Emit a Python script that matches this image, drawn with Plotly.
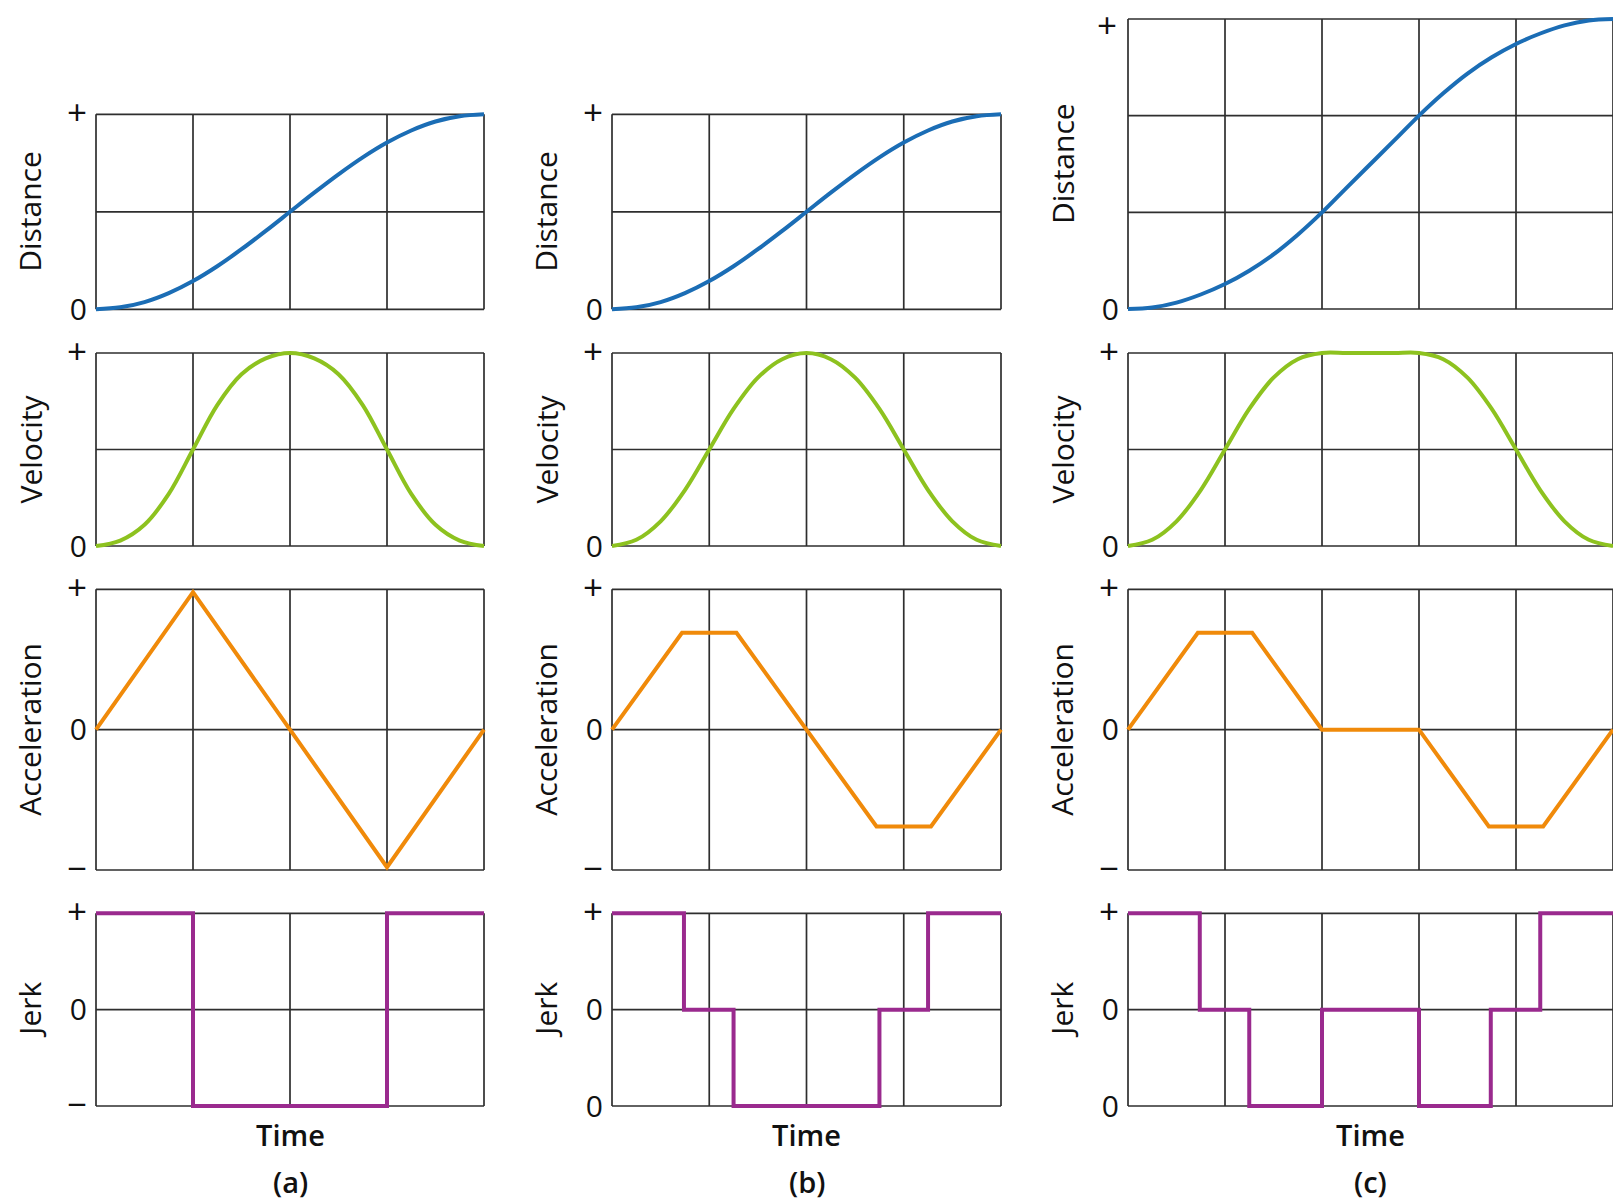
import plotly.graph_objects as go

W, H = 1613, 1204

# ---- sample times, in grid columns ----
t_ab = [0, 0.25, 0.5, 0.75, 1, 1.25, 1.5, 1.75, 2, 2.25, 2.5, 2.75, 3, 3.25, 3.5, 3.75, 4]
t_c = [0, 0.25, 0.5, 0.75, 1, 1.25, 1.5, 1.75, 2, 2.25, 2.5, 2.75, 3, 3.25, 3.5,
       3.75, 4, 4.25, 4.5, 4.75, 5]

# ---- distance (0 .. +) ----
dist_a = [0, 0.01, 0.037, 0.083, 0.145, 0.221, 0.308, 0.402, 0.5, 0.598, 0.692,
          0.779, 0.855, 0.917, 0.963, 0.99, 1.0]
dist_b = [0, 0.01, 0.037, 0.083, 0.145, 0.221, 0.308, 0.402, 0.5, 0.598, 0.692,
          0.779, 0.855, 0.917, 0.963, 0.99, 1.0]
dist_c = [0, 0.005, 0.022, 0.05, 0.086, 0.132, 0.188, 0.256, 0.333, 0.417, 0.5,
          0.583, 0.667, 0.744, 0.812, 0.868, 0.914, 0.95, 0.978, 0.995, 1.0]

# ---- velocity (0 .. +) ----
vel_a = [0, 0.028, 0.11, 0.27, 0.5, 0.73, 0.89, 0.972, 1.0, 0.972, 0.89, 0.73, 0.5,
         0.27, 0.11, 0.028, 0]
vel_b = [0, 0.032, 0.128, 0.29, 0.5, 0.71, 0.872, 0.968, 1.0, 0.968, 0.872, 0.71, 0.5,
         0.29, 0.128, 0.032, 0]
vel_c = [0, 0.032, 0.128, 0.29, 0.5, 0.71, 0.872, 0.968, 1.0, 1.0, 1.0, 1.0, 1.0,
         0.968, 0.872, 0.71, 0.5, 0.29, 0.128, 0.032, 0]

# ---- acceleration (− .. +), piecewise linear breakpoints ----
acc_a_t = [0, 1, 2, 3, 4]
acc_a = [0, 0.98, 0, -0.98, 0]
acc_b_t = [0, 0.72, 1.28, 2.72, 3.28, 4]
acc_b = [0, 0.69, 0.69, -0.69, -0.69, 0]
acc_c_t = [0, 0.72, 1.28, 2, 3, 3.72, 4.28, 5]
acc_c = [0, 0.69, 0.69, 0, 0, -0.69, -0.69, 0]

# ---- jerk (step levels: +1, 0, -1) ----
jerk_a_t = [0, 1, 3, 4]
jerk_a = [1, -1, 1, 1]
jerk_b_t = [0, 0.74, 1.25, 2.75, 3.25, 4]
jerk_b = [1, 0, -1, 0, 1, 1]
jerk_c_t = [0, 0.74, 1.25, 2, 3, 3.74, 4.25, 5]
jerk_c = [1, 0, -1, 0, -1, 0, 1, 1]

# ---- labels ----
PLUS = "<span style='font-size:35px'>+</span>"
MINUS = "<span style='font-size:35px'>\u2212</span>"
row_titles = ["Distance", "Velocity", "Acceleration", "Jerk"]
col_captions = ["(a)", "(b)", "(c)"]
time_label = "Time"
dist_ticks_ab = ([0, 0.5, 1], ["0", "", PLUS])
# the "+" of the tall distance panel sits at the page top; it is placed separately
dist_ticks_c = ([0, 1 / 3, 2 / 3, 1], ["0", "", "", ""])
vel_ticks = ([0, 0.5, 1], ["0", "", PLUS])
acc_ticks = ([-1, 0, 1], [MINUS, "0", PLUS])
jerk_ticks_a = ([-1, 0, 1], [MINUS, "0", PLUS])
jerk_ticks_bc = ([-1, 0, 1], ["0", "0", PLUS])

BLUE = "#1b6db5"
GREEN = "#8dc21f"
ORANGE = "#f08a0a"
PURPLE = "#9a2a8e"
GRID = "#2e2e2e"
FONT = "Open Sans"
TEXT = "#111111"

# frame boxes in pixels: columns (left, right, n columns), rows (top, bottom)
cols = [(96, 484, 4), (612, 1001, 4), (1128, 1613, 5)]
rows_ab = [(114.3, 309.3), (353, 546), (589.3, 870), (913.3, 1106)]
rows_c = [(19, 309), (353, 546), (589.3, 870), (913.3, 1106)]
PAD = 5

panels = [
    [(t_ab, dist_a, BLUE, "spline", (0, 1), dist_ticks_ab),
     (t_ab, vel_a, GREEN, "spline", (0, 1), vel_ticks),
     (acc_a_t, acc_a, ORANGE, "linear", (-1, 1), acc_ticks),
     (jerk_a_t, jerk_a, PURPLE, "hv", (-1, 1), jerk_ticks_a)],
    [(t_ab, dist_b, BLUE, "spline", (0, 1), dist_ticks_ab),
     (t_ab, vel_b, GREEN, "spline", (0, 1), vel_ticks),
     (acc_b_t, acc_b, ORANGE, "linear", (-1, 1), acc_ticks),
     (jerk_b_t, jerk_b, PURPLE, "hv", (-1, 1), jerk_ticks_bc)],
    [(t_c, dist_c, BLUE, "spline", (0, 1), dist_ticks_c),
     (t_c, vel_c, GREEN, "spline", (0, 1), vel_ticks),
     (acc_c_t, acc_c, ORANGE, "linear", (-1, 1), acc_ticks),
     (jerk_c_t, jerk_c, PURPLE, "hv", (-1, 1), jerk_ticks_bc)],
]

fig = go.Figure()
layout = {}
annotations = []
shapes = []
k = 0
for ci, (L, R, ncol) in enumerate(cols):
    rows = rows_c if ci == 2 else rows_ab
    for ri, (T, B) in enumerate(rows):
        k += 1
        xs, ys, color, shape, (lo, hi), (tv, tt) = panels[ci][ri]
        rpad = 0 if R >= W else PAD
        ux = ncol / (R - L)
        uy = (hi - lo) / (B - T)
        sfx = "" if k == 1 else str(k)
        layout["xaxis" + sfx] = dict(
            domain=[(L - PAD) / W, min(1.0, (R + rpad) / W)],
            range=[0 - PAD * ux, ncol + rpad * ux], anchor="y" + sfx,
            showticklabels=False, ticks="", showgrid=False, zeroline=False,
            showline=False, automargin=False, fixedrange=True)
        layout["yaxis" + sfx] = dict(
            domain=[1 - (B + PAD) / H, 1 - (T - PAD) / H],
            range=[lo - PAD * uy, hi + PAD * uy], anchor="x" + sfx,
            tickvals=tv, ticktext=tt, ticks="", ticklabelstandoff=3,
            ticklabeloverflow="allow",
            showgrid=False, zeroline=False, showline=False, automargin=False,
            fixedrange=True, tickfont=dict(family=FONT, size=30, color=TEXT))
        # grid and frame, limited to the panel box
        for gx in range(ncol + 1):
            shapes.append(dict(type="line", xref="x" + sfx, yref="y" + sfx,
                               x0=gx, x1=gx, y0=lo, y1=hi, layer="below",
                               line=dict(color=GRID, width=1.7)))
        for gy in tv:
            shapes.append(dict(type="line", xref="x" + sfx, yref="y" + sfx,
                               x0=0, x1=ncol, y0=gy, y1=gy, layer="below",
                               line=dict(color=GRID, width=1.7)))
        fig.add_trace(go.Scatter(
            x=xs, y=ys, mode="lines", xaxis="x" + sfx, yaxis="y" + sfx,
            line=dict(color=color, width=4, shape=shape,
                      smoothing=1.0 if shape == "spline" else None),
            showlegend=False, hoverinfo="skip"))
        annotations.append(dict(
            text=row_titles[ri], xref="paper", yref="paper",
            x=(L - 66) / W, y=1 - ((T + B) / 2) / H, xanchor="center", yanchor="middle",
            textangle=-90, showarrow=False, font=dict(family=FONT, size=30, color=TEXT)))
    cx = (L + R) / 2
    annotations.append(dict(
        text=time_label, xref="paper", yref="paper", x=cx / W, y=1 - 1134 / H,
        xanchor="center", yanchor="middle", showarrow=False,
        font=dict(family=FONT, size=29, color=TEXT, weight=600)))
    annotations.append(dict(
        text=col_captions[ci], xref="paper", yref="paper", x=cx / W, y=1 - 1181 / H,
        xanchor="center", yanchor="middle", showarrow=False,
        font=dict(family=FONT, size=29, color=TEXT, weight=600)))

# "+" marker for the top of the tall distance panel, kept inside the page
annotations.append(dict(
    text="+", xref="paper", yref="paper", x=(cols[2][0] - 10) / W, y=1.0,
    xanchor="right", yanchor="top", showarrow=False, borderpad=0,
    font=dict(family=FONT, size=35, color=TEXT)))

fig.update_layout(
    width=W, height=H, margin=dict(l=0, r=0, t=0, b=0, autoexpand=False),
    paper_bgcolor="white", plot_bgcolor="white", template="none",
    annotations=annotations, shapes=shapes, **layout)

fig.write_html("out.html", config={"displayModeBar": False})
